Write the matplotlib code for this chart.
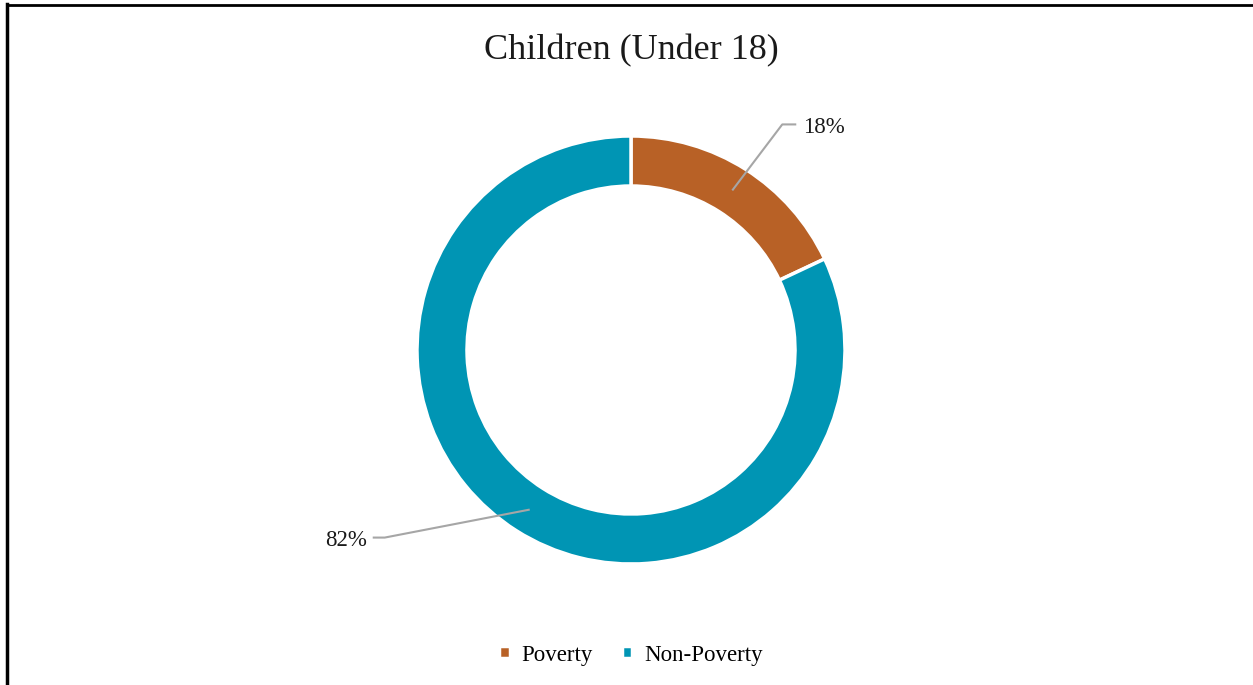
import numpy as np
import matplotlib
matplotlib.use("Agg")
import matplotlib.pyplot as plt

# Share of children (under 18) by poverty status
categories = ["Poverty", "Non-Poverty"]
shares = [18, 82]
colors = ["#B86126", "#0095B4"]

W, H = 1253, 685
plt.rcParams["font.family"] = ["Liberation Serif", "DejaVu Serif"]

fig = plt.figure(figsize=(W / 100, H / 100), dpi=100, facecolor="white")
ax = fig.add_axes([0, 0, 1, 1])

cx, cy = 631, H - 350
r_out, ring = 214, 50
wedges, _ = ax.pie(
    shares, colors=colors, startangle=90, counterclock=False,
    center=(cx, cy), radius=r_out, frame=True,
    wedgeprops=dict(width=ring, edgecolor="white", linewidth=2.5),
)
ax.set_xlim(0, W)
ax.set_ylim(0, H)
ax.set_aspect("equal")
ax.axis("off")

# Percentage labels with elbow leader lines from mid-ring
label_offsets = [((50, 66), (64, 66), "left"), ((-145, -28), (-157, -28), "right")]
for w, s, (elbow, end, ha) in zip(wedges, shares, label_offsets):
    ang = np.deg2rad((w.theta1 + w.theta2) / 2)
    rm = r_out - ring / 2
    px, py = cx + rm * np.cos(ang), cy + rm * np.sin(ang)
    ax.plot([px, px + elbow[0], px + end[0]], [py, py + elbow[1], py + end[1]],
            color="#A6A6A6", lw=1.5, solid_capstyle="butt")
    tx = px + end[0] + (7 if ha == "left" else -6)
    ax.text(tx, py + end[1] - 3, f"{s}%", ha=ha, va="center", fontsize=16.5, color="#1a1a1a")

fig.text(0.5035, 1 - 51 / H, "Children (Under 18)", ha="center", va="center",
         fontsize=26, color="#1a1a1a")

fig.legend(wedges, categories, loc="center", bbox_to_anchor=(0.5035, 1 - 655 / H),
           ncol=2, frameon=False, fontsize=16.5, handlelength=0.45, handleheight=0.45,
           handletextpad=0.5, columnspacing=1.3)

# Frame lines along the top and left edges
fig.add_artist(plt.Line2D([6.5 / W, 1], [1 - 4.5 / H] * 2, color="black", lw=2,
                          transform=fig.transFigure))
fig.add_artist(plt.Line2D([7 / W] * 2, [0, 1 - 4 / H], color="black", lw=2.5,
                          transform=fig.transFigure))

fig.savefig("out.png", dpi=100, facecolor="white")
